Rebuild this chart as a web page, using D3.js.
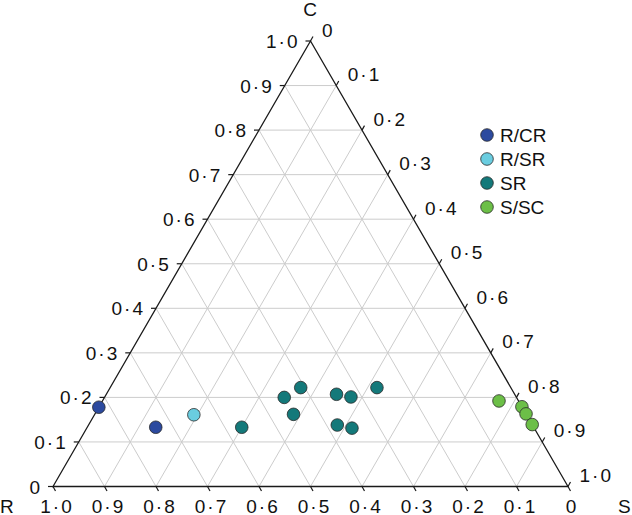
<!DOCTYPE html>
<html><head><meta charset="utf-8">
<script src="https://cdn.jsdelivr.net/npm/d3@7"></script>
<style>
html,body{margin:0;padding:0;background:#fff;}
svg{display:block;}
text{font-family:"Liberation Sans",Arial,Helvetica,sans-serif;fill:#111;}
</style></head>
<body>
<script>
// ---- data ----
const groups = ["R/CR", "R/SR", "SR", "S/SC"];
const groupColors = ["#2c4a9f", "#6acde0", "#14797a", "#6cbf47"];
const pointGroup = ["R/CR","R/CR","R/SR","SR","SR","SR","SR","SR","SR","SR","SR","SR","S/SC","S/SC","S/SC","S/SC"];
const rValues = [0.822,0.734,0.646,0.567,0.451,0.408,0.452,0.346,0.321,0.260,0.379,0.354,0.038,0.000,0.000,0.000];
const sValues = [0.000,0.133,0.193,0.300,0.349,0.370,0.386,0.447,0.478,0.518,0.483,0.515,0.770,0.821,0.837,0.861];
const cValues = [0.178,0.133,0.161,0.133,0.200,0.222,0.162,0.207,0.201,0.222,0.138,0.131,0.192,0.179,0.163,0.139];
const tickValues = [0,0.1,0.2,0.3,0.4,0.5,0.6,0.7,0.8,0.9,1.0];
const tickLabels = ["0","0·1","0·2","0·3","0·4","0·5","0·6","0·7","0·8","0·9","1·0"];
const axisTitles = {R:"R", S:"S", C:"C"};

// ---- layout ----
const W = 632, H = 515;
const x = d3.scaleLinear().domain([0,1]).range([53, 568]);
const y = d3.scaleLinear().domain([0,1]).range([486.5, 41]);
// ternary projection (s,c) -> pixel
const px = (s,c) => x(s + c/2);
const py = c => y(c);
const color = d3.scaleOrdinal().domain(groups).range(groupColors);

const svg = d3.select("body").append("svg").attr("width", W).attr("height", H);

// grid lines
const grid = svg.append("g").attr("stroke","#cccccc").attr("stroke-width",1).attr("fill","none");
tickValues.filter(t => t>0 && t<1).forEach(t => {
  grid.append("line").attr("x1",px(0,t)).attr("y1",py(t)).attr("x2",px(1-t,t)).attr("y2",py(t));
  grid.append("line").attr("x1",px(t,0)).attr("y1",py(0)).attr("x2",px(t,1-t)).attr("y2",py(1-t));
  grid.append("line").attr("x1",px(1-t,0)).attr("y1",py(0)).attr("x2",px(0,1-t)).attr("y2",py(1-t));
});

// triangle
svg.append("path")
  .attr("d", d3.line()([[px(0,0),py(0)],[px(1,0),py(0)],[px(0,1),py(1)]]) + "Z")
  .attr("fill","none").attr("stroke","#1a1a1a").attr("stroke-width",1.3);

// ticks and labels
const LS = 2; // letter spacing
const tk = svg.append("g").attr("stroke","#1a1a1a").attr("stroke-width",1.2);
const lab = svg.append("g").style("font-size","19px").style("letter-spacing", LS + "px");
tickValues.forEach((t,i) => {
  // left axis: C
  const lx = px(0,t), ly = py(t);
  tk.append("line").attr("x1",lx).attr("y1",ly).attr("x2",lx-5).attr("y2",ly);
  lab.append("text").attr("x",lx-13+LS).attr("y",ly+7).attr("text-anchor","end").text(tickLabels[i]);
  // bottom axis: R
  const bx = px(1-t,0), by = py(0);
  tk.append("line").attr("x1",bx).attr("y1",by).attr("x2",bx+2.5).attr("y2",by+4.5);
  lab.append("text").attr("x",bx+3+LS/2).attr("y",512.5).attr("text-anchor","middle").text(tickLabels[i]);
  // right axis: S
  const rx = px(t,1-t), ry = py(1-t);
  tk.append("line").attr("x1",rx).attr("y1",ry).attr("x2",rx+2.5).attr("y2",ry-4.5);
  lab.append("text").attr("x",rx+11.5).attr("y",ry-4.5).attr("text-anchor","start").text(tickLabels[i]);
});

// axis titles
const ttl = svg.append("g").style("font-size","19px");
ttl.append("text").attr("x",0).attr("y",512.5).text(axisTitles.R);
ttl.append("text").attr("x",618).attr("y",512.5).text(axisTitles.S);
ttl.append("text").attr("x",310).attr("y",16).attr("text-anchor","middle").text(axisTitles.C);

// points
svg.append("g").selectAll("circle").data(d3.range(rValues.length)).join("circle")
  .attr("cx", i => px(sValues[i], cValues[i]))
  .attr("cy", i => py(cValues[i]))
  .attr("r", 6.3)
  .attr("fill", i => color(pointGroup[i]))
  .attr("stroke","#2a2a2a").attr("stroke-width",0.8);

// legend
const leg = svg.append("g").attr("transform","translate(487,135)");
groups.forEach((g,i) => {
  const row = leg.append("g").attr("transform",`translate(0,${i*24})`);
  row.append("circle").attr("r",6.3).attr("fill",color(g)).attr("stroke","#2a2a2a").attr("stroke-width",0.8);
  row.append("text").attr("x",13).attr("y",7).style("font-size","19px").text(g);
});
</script>
</body></html>
